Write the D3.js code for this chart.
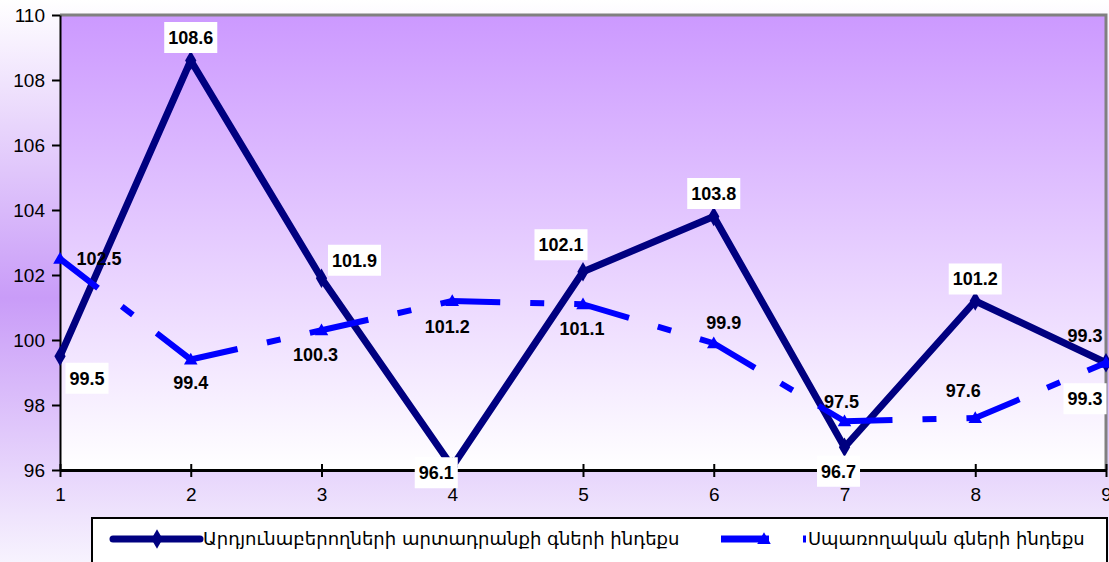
<!DOCTYPE html>
<html>
<head>
<meta charset="utf-8">
<script src="https://cdn.jsdelivr.net/npm/d3@7"></script>
<style>
  html, body { margin: 0; padding: 0; background: #ffffff; }
  svg { display: block; }
</style>
</head>
<body>
<svg id="chart" width="1109" height="562"></svg>
<script>
// ---- data ----
const categories = [1, 2, 3, 4, 5, 6, 7, 8, 9];
const producerIndex = [99.5, 108.6, 101.9, 96.1, 102.1, 103.8, 96.7, 101.2, 99.3];
const consumerIndex = [102.5, 99.4, 100.3, 101.2, 101.1, 99.9, 97.5, 97.6, 99.3];
const yTickValues = [96, 98, 100, 102, 104, 106, 108, 110];
const seriesNames = ["Արդյունաբերողների արտադրանքի գների ինդեքս", "Սպառողական գների ինդեքս"];

// label offsets (placement only)
const producerLabelOffsets = [[27, 22], [0, -23], [33, -18], [-16, 6], [-22, -27], [0, -23], [-6, 24], [0, -22], [-21, 36]];
const consumerLabelOffsets = [[39, 0], [0, 23], [-6, 24], [-5, 26], [-1, 24], [10, -21], [-3, -20], [-12, -27], [-21, -27]];

const W = 1109, H = 562;
const svg = d3.select("#chart");
const defs = svg.append("defs");

const outerGrad = defs.append("linearGradient").attr("id", "outerGrad")
  .attr("x1", 0).attr("y1", 0).attr("x2", 0).attr("y2", 1);
outerGrad.append("stop").attr("offset", "0%").attr("stop-color", "#ffffff");
outerGrad.append("stop").attr("offset", "53%").attr("stop-color", "#c99cf8");
outerGrad.append("stop").attr("offset", "100%").attr("stop-color", "#f7f3fe");

const plotGrad = defs.append("linearGradient").attr("id", "plotGrad")
  .attr("x1", 0).attr("y1", 0).attr("x2", 0).attr("y2", 1);
plotGrad.append("stop").attr("offset", "0%").attr("stop-color", "#cc99ff");
plotGrad.append("stop").attr("offset", "100%").attr("stop-color", "#ffffff");

svg.append("rect").attr("x", 0).attr("y", 0).attr("width", W).attr("height", H).attr("fill", "url(#outerGrad)");

const x = d3.scaleLinear().domain([1, 9]).range([60, 1106]);
const y = d3.scaleLinear().domain([96, 110]).range([470, 15]);

// plot area
svg.append("rect")
  .attr("x", x(1)).attr("y", y(110))
  .attr("width", x(9) - x(1)).attr("height", y(96) - y(110))
  .attr("fill", "url(#plotGrad)");
// grey border top & right
svg.append("path")
  .attr("d", `M${x(1)},${y(110)}H${x(9)}V${y(96)}`)
  .attr("fill", "none").attr("stroke", "#808080").attr("stroke-width", 3);

const tickFont = "'Liberation Sans', Arial, sans-serif";

// y axis
const yAxis = svg.append("g").attr("transform", `translate(${x(1)},0)`)
  .call(d3.axisLeft(y).tickValues(yTickValues).tickSizeInner(8).tickSizeOuter(0).tickPadding(7).tickFormat(d3.format("d")));
yAxis.select(".domain").attr("stroke", "#000").attr("stroke-width", 2);
yAxis.selectAll(".tick line").attr("stroke", "#000").attr("stroke-width", 2);
yAxis.selectAll(".tick text").attr("font-family", tickFont).attr("font-size", 19).attr("fill", "#000");

// x axis
const xAxis = svg.append("g").attr("transform", `translate(0,${y(96)})`)
  .call(d3.axisBottom(x).tickValues(categories).tickSizeInner(7).tickSizeOuter(0).tickPadding(11).tickFormat(d3.format("d")));
xAxis.select(".domain").attr("stroke", "#000").attr("stroke-width", 3);
xAxis.selectAll(".tick line").attr("y1", -6).attr("y2", 7).attr("stroke", "#000").attr("stroke-width", 2);
xAxis.selectAll(".tick text").attr("font-family", tickFont).attr("font-size", 19).attr("fill", "#000");

const navy = "#000080", blue = "#0000ff";
const dashPattern = "48,30,14,30";

// producer line
const line = d3.line().x((d, i) => x(categories[i])).y(d => y(d));
svg.append("path").datum(producerIndex)
  .attr("d", line).attr("fill", "none").attr("stroke", navy).attr("stroke-width", 7)
  .attr("stroke-linejoin", "round");
const diamond = d3.symbol().type(d3.symbolDiamond).size(110);
svg.append("g").selectAll("path").data(producerIndex).join("path")
  .attr("d", diamond)
  .attr("transform", (d, i) => `translate(${x(categories[i])},${y(d)})`)
  .attr("fill", navy);

// consumer line (dash pattern restarts at every point)
const segs = d3.pairs(consumerIndex.map((v, i) => [x(categories[i]), y(v)]));
svg.append("g").selectAll("path").data(segs).join("path")
  .attr("d", d => `M${d[0][0]},${d[0][1]}L${d[1][0]},${d[1][1]}`)
  .attr("fill", "none").attr("stroke", blue).attr("stroke-width", 6)
  .attr("stroke-dasharray", dashPattern).attr("stroke-linecap", "butt");
const tri = d3.symbol().type(d3.symbolTriangle).size(80);
svg.append("g").selectAll("path").data(consumerIndex).join("path")
  .attr("d", tri)
  .attr("transform", (d, i) => `translate(${x(categories[i])},${y(d) + 1})`)
  .attr("fill", blue);

// data labels
const labelFont = "'Liberation Sans', Arial, sans-serif";
function drawLabels(values, offsets, boxed) {
  const g = svg.append("g");
  values.forEach((v, i) => {
    const cx = x(categories[i]) + offsets[i][0];
    const cy = y(v) + offsets[i][1];
    const lg = g.append("g");
    const t = lg.append("text")
      .attr("x", cx).attr("y", cy).attr("dy", "0.36em")
      .attr("text-anchor", "middle")
      .attr("font-family", labelFont).attr("font-size", 18).attr("font-weight", "bold")
      .attr("fill", "#000").text(d3.format(".1f")(v));
    if (boxed) {
      const bb = t.node().getBBox();
      lg.insert("rect", "text")
        .attr("x", bb.x - 4).attr("y", cy - 15.5)
        .attr("width", bb.width + 8).attr("height", 31)
        .attr("fill", "#ffffff");
    }
  });
}
drawLabels(producerIndex, producerLabelOffsets, true);
drawLabels(consumerIndex, consumerLabelOffsets, false);

// legend
const lg = svg.append("g");
lg.append("rect").attr("x", 92).attr("y", 518).attr("width", 1015).attr("height", 60)
  .attr("fill", "#ffffff").attr("stroke", "#000").attr("stroke-width", 2);
const legY = 539;
lg.append("line").attr("x1", 113).attr("x2", 200).attr("y1", legY).attr("y2", legY)
  .attr("stroke", navy).attr("stroke-width", 7).attr("stroke-linecap", "round");
lg.append("path").attr("d", diamond).attr("transform", `translate(157,${legY})`).attr("fill", navy);
lg.append("line").attr("x1", 721).attr("x2", 806).attr("y1", legY).attr("y2", legY)
  .attr("stroke", blue).attr("stroke-width", 7).attr("stroke-dasharray", "48,34,14,30");
lg.append("path").attr("d", tri).attr("transform", `translate(764,${legY + 1})`).attr("fill", blue);

function fitText(txt, x0, width) {
  const t = lg.append("text").attr("x", x0).attr("y", legY).attr("dy", "0.35em")
    .attr("font-family", "'DejaVu Sans', 'Noto Sans', sans-serif").attr("font-size", 18)
    .attr("fill", "#000").text(txt);
  const w = t.node().getComputedTextLength();
  t.attr("font-size", 18 * width / w);
}
fitText(seriesNames[0], 203, 477);
fitText(seriesNames[1], 808, 277);
</script>
</body>
</html>
